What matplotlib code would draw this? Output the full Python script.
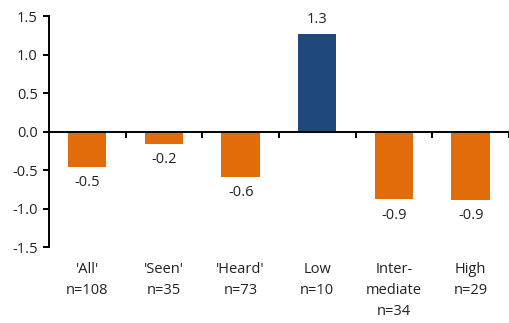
import numpy as np
import matplotlib.pyplot as plt

plt.rcParams['font.family'] = ['Open Sans', 'DejaVu Sans']

groups = ["'All'\nn=108", "'Seen'\nn=35", "'Heard'\nn=73",
          "Low\nn=10", "Inter-\nmediate\nn=34", "High\nn=29"]
scores = [-0.46, -0.16, -0.59, 1.27, -0.88, -0.89]

orange = '#E36C0A'
blue = '#1F497D'
colors = [blue if v > 0 else orange for v in scores]

fig = plt.figure(figsize=(5.10, 3.23), dpi=100)
ax = fig.add_axes([0.096, 0.235, 0.902, 0.715])

x = np.arange(len(scores))
ax.bar(x, scores, width=0.5, color=colors)

for xi, v in zip(x, scores):
    if v >= 0:
        ax.annotate(f'{v:.1f}', (xi, v), xytext=(0, 5), textcoords='offset points',
                    ha='center', va='bottom', fontsize=10.5, color='#222222')
    else:
        ax.annotate(f'{v:.1f}', (xi, v), xytext=(0, -6), textcoords='offset points',
                    ha='center', va='top', fontsize=10.5, color='#222222')

ax.set_xlim(-0.5, len(scores) - 0.5)
ax.set_ylim(-1.5, 1.5)
ax.set_yticks(np.arange(-1.5, 1.51, 0.5))
ax.set_yticklabels([f'{t:.1f}' for t in np.arange(-1.5, 1.51, 0.5)])

# zero line carries the category dividers
ax.spines['bottom'].set_position(('data', 0))
ax.spines['top'].set_visible(False)
ax.spines['right'].set_visible(False)
for s in ('left', 'bottom'):
    ax.spines[s].set_linewidth(1.4)
    ax.spines[s].set_color('black')
ax.set_xticks(np.arange(0.5, len(scores), 1.0))
ax.set_xticklabels([])
ax.tick_params(axis='x', direction='out', length=4, width=1.4)
ax.tick_params(axis='y', direction='out', length=4, width=1.4,
               labelsize=10.5, pad=4, labelcolor='#222222')

# group names along the bottom of the plot area
sec = ax.secondary_xaxis(0)
sec.set_xticks(x)
sec.set_xticklabels(groups, fontsize=10.5, color='#222222', va='top', linespacing=1.55)
sec.tick_params(length=0, pad=11)
sec.spines['bottom'].set_visible(False)

plt.savefig('out.png', dpi=100)
